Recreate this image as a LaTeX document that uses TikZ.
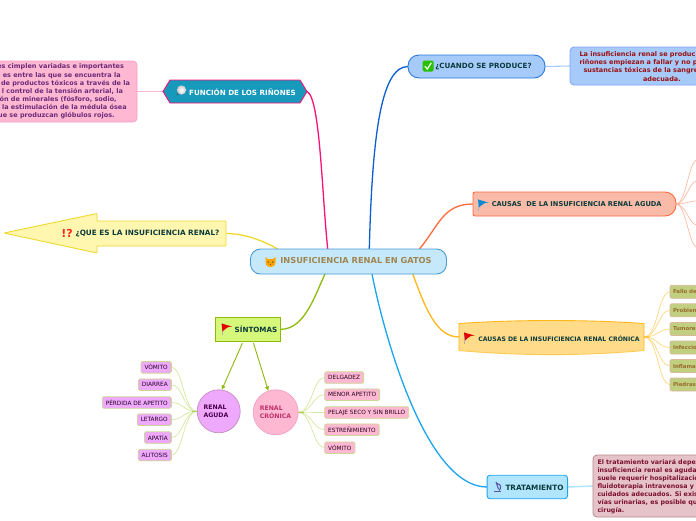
\documentclass[tikz,border=0pt]{standalone}
\usepackage{fontspec}
\setmainfont{DejaVu Sans}
\usetikzlibrary{backgrounds,arrows.meta}
\definecolor{ink}{HTML}{0B3B3C}
\definecolor{pinkf}{HTML}{FFB8D2}
\definecolor{pinkd}{HTML}{F5A0C4}
\definecolor{violetf}{HTML}{EFA9FC}
\definecolor{leafd}{HTML}{CBD795}
\definecolor{fanl}{HTML}{D5E8A0}
\definecolor{bluef}{HTML}{A6CBFA}
\definecolor{blued}{HTML}{2B78E0}
\definecolor{salm}{HTML}{F9BBA7}
\definecolor{orgd}{HTML}{FF6B3D}
\definecolor{goldf}{HTML}{FFDB8A}
\definecolor{goldd}{HTML}{FFB818}
\definecolor{cyanf}{HTML}{B0E5FD}
\definecolor{cyand}{HTML}{1BA5EE}
\definecolor{yelf}{HTML}{FFF7B0}
\definecolor{yeld}{HTML}{EFD92B}
\definecolor{grn}{HTML}{8DBB0B}
\definecolor{grnf}{HTML}{D5F77A}
\definecolor{mag}{HTML}{FF0F78}
\definecolor{tealf}{HTML}{1799BB}
\definecolor{centf}{HTML}{C5E9FB}
\definecolor{centd}{HTML}{4A9BD4}
\definecolor{centt}{HTML}{A08550}
\definecolor{oliveleaf}{HTML}{C0D080}
\definecolor{oliveedge}{HTML}{D9B99B}
\definecolor{olivetext}{HTML}{9A6B2E}
\definecolor{rosef}{HTML}{E6C3C8}
\definecolor{rosed}{HTML}{B58A90}
\definecolor{cronr}{HTML}{C0306B}
\definecolor{trunk}{HTML}{0B5FD0}
\newcommand{\flagicon}[3]{%
  \fill[gray!60] (#1-4,#2-6) rectangle (#1-3,#2+6);
  \fill[#3] (#1-4,#2-5.5) -- (#1+6.5,#2-2.5) .. controls (#1+2,#2-2) .. (#1-3,#2+2.5) -- cycle;}
\newcommand{\rline}[2]{\makebox[130pt][r]{#2\hspace*{#1pt}}}
\tikzset{
  x=1pt,y=-1pt,
  every node/.style={inner sep=0pt,outer sep=0pt,font=\bfseries\fontsize{7.15}{8}\selectfont,text=ink},
  leaf/.style={draw=leafd,line width=.9pt,rounded corners=1.5pt,minimum height=11.5pt,inner xsep=3.5pt,
     font=\fontsize{5.8}{6}\selectfont,text=black!75!violet},
  vleaf/.style={leaf,fill=violetf},
  pleaf/.style={leaf,fill=pinkf},
  gleaf/.style={draw=oliveedge,fill=oliveleaf,line width=.8pt,rounded corners=2pt,minimum height=13pt,minimum width=40pt,anchor=west,inner xsep=3pt,
     font=\fontsize{5.4}{6}\selectfont\bfseries,text=olivetext,text width=34pt,align=left},
  desc/.style={font=\bfseries\fontsize{6.5}{8.1}\selectfont},
  vfan/.style={fanl,line width=.7pt},
  ofan/.style={salm,line width=.7pt},
  gfan/.style={goldf,line width=.8pt},
  branch/.style={line width=1.3pt},
}
\begin{document}
\begin{tikzpicture}
\useasboundingbox (0,0) rectangle (696,520);
\clip (0,0) rectangle (696,520);

% central
\node[draw=centd,fill=centf,line width=.9pt,rounded corners=10pt,minimum width=196pt,minimum height=25pt] (central) at (348.5,261.5) {};
\node[text=centt,font=\bfseries\fontsize{8.25}{9}\selectfont] (centralt) at (356,260.5) {INSUFICIENCIA RENAL EN GATOS};
\fill[orange!70!yellow] (265.5,257) -- (268,259) -- (273,259) -- (275.5,257) -- (275.5,262) .. controls (275.5,269) and (265.5,269) .. (265.5,262) -- cycle;
\fill[brown!60!black] (268.2,262) circle (.8) (272.8,262) circle (.8) (270.5,264.5) circle (.7);

% funcion
\node[minimum width=144pt,minimum height=23pt] (fun) at (235,91.5) {};
\draw[draw=mag,fill=tealf,line width=.9pt] (fun.west) -- ([xshift=7pt]fun.north west) -- ([xshift=-7pt]fun.north east) -- (fun.east) -- ([xshift=-7pt]fun.south east) -- ([xshift=7pt]fun.south west) -- cycle;
\node[text=white] (funt) at (242.5,92) {FUNCIÓN DE LOS RIÑONES};
\fill[gray!60!black] (176.5,95.5) -- (178,93) -- (179,94) -- cycle;
\shade[inner color=white,outer color=gray!40] (181.5,90) circle (4.6);
\node[draw=pinkd,fill=pinkf,line width=.8pt,rounded corners=4pt,minimum width=160pt,minimum height=61pt] (fund) at (57,91.5) {};
\node[desc,anchor=west,align=left,text={rgb,255:red,107;green,42;blue,122}] (fundt) at (0,91.5) {\rline{6}{es cimplen variadas e importantes}\\\rline{9.3}{es entre las que se encuentra la}\\\rline{0}{de productos tóxicos a través de la}\\\rline{7}{l control de la tensión arterial, la}\\\rline{13.3}{ón de minerales (fósforo, sodio,}\\\rline{3.3}{o la estimulación de la médula ósea}\\\rline{15.3}{que se produzcan glóbulos rojos.}};

% cuando
\node[draw=blued,fill=bluef,line width=.9pt,rounded corners=11pt,minimum width=137pt,minimum height=23pt] (cuando) at (476.5,66.5) {};
\node (cuandot) at (483.5,66.5) {¿CUANDO SE PRODUCE?};
\fill[green!70!black!80!lime,rounded corners=1.5pt] (422.5,60.5) rectangle (433.5,71.5);
\draw[white,line width=1.2pt] (424.8,66.3) -- (427.3,69) -- (431.3,62.8);
\node[draw=bluef!80!blue,fill=bluef,line width=.8pt,rounded corners=4pt,minimum width=140pt,minimum height=38pt] (cuandod) at (640,66) {};
\node[desc,anchor=west,align=left,text={rgb,255:red,156;green,16;blue,16}] (cuandodt) at (579.5,66.5) {La insuficiencia renal se produc\\riñones empiezan a fallar y no p\\\hspace*{4pt}sustancias tóxicas de la sangre\\\hspace*{63.5pt}adecuada.};

% aguda causes
\node[minimum width=203pt,minimum height=24pt] (agu) at (574.5,204) {};
\draw[draw=orgd,fill=salm,line width=.9pt,rounded corners=2pt] (agu.west) -- (agu.north west) [rounded corners=11pt] -- (agu.north east) -- (agu.south east) [rounded corners=2pt] -- (agu.south west) -- cycle;
\node[font=\bfseries\fontsize{6.65}{8}\selectfont] (agut) at (576.7,204.3) {CAUSAS\ \ DE LA INSUFICIENCIA RENAL AGUDA};
\flagicon{482}{205}{cyan!70!blue}

% cronica causes
\node[minimum width=185pt,minimum height=27pt] (cro) at (551.5,337) {};
\fill[goldf] (cro.north west) .. controls +(60,-4) and +(-60,-4) .. (cro.north east) -- (cro.south east) .. controls +(-60,5.5) and +(60,5.5) .. (cro.south west) -- cycle;
\draw[goldf!55!goldd,line width=.9pt] (cro.south west) .. controls +(60,5.5) and +(-60,5.5) .. (cro.south east);
\draw[goldd,line width=.9pt] (cro.south west) -- (cro.north west) .. controls +(60,-4) and +(-60,-4) .. (cro.north east) -- (cro.south east);
\node[font=\bfseries\fontsize{6.15}{8}\selectfont] (crot) at (559,338.3) {CAUSAS DE LA INSUFICIENCIA RENAL CRÓNICA};
\flagicon{468}{338}{red!90!black}

% cronica leaves
\node[gleaf] (g1) at (670,291.8) {Fallo de};
\node[gleaf] (g2) at (670,310.3) {Problem};
\node[gleaf] (g3) at (670,329) {Tumores};
\node[gleaf] (g4) at (670,347.5) {Infeccion};
\node[gleaf] (g5) at (670,366) {Inflama};
\node[gleaf] (g6) at (670,384.5) {Piedras};

% tratamiento
\node[draw=cyand,fill=cyanf,line width=.9pt,rounded corners=3pt,minimum width=80.5pt,minimum height=23.5pt] (tra) at (527.3,487) {};
\node[font=\bfseries\fontsize{7.3}{8}\selectfont] (trat) at (534.5,487.5) {TRATAMIENTO};
\draw[gray!70!blue,line width=1.3pt] (494,491.5) -- (501,491.5);
\draw[gray!70!blue,line width=1.1pt] (496,482) -- (498.5,489) (497,483.5) .. controls (502,484) and (501,489) .. (499,490.5);
\node[draw=rosed,fill=rosef,line width=.8pt,rounded corners=4pt,minimum width=120pt,minimum height=62pt] (trad) at (653,486) {};
\node[anchor=west,align=left,font=\bfseries\fontsize{6.3}{8.1}\selectfont,text={rgb,255:red,122;green,16;blue,48}] (tradt) at (597.5,486.5) {El tratamiento variará depe\\insuficiencia renal es aguda\\suele requerir hospitalizació\\fluidoterapia intravenosa y\\cuidados adecuados. Si exis\\vías urinarias, es posible qu\\cirugía.};

% que es
\coordinate (qtip) at (4,233);
\node[minimum width=129pt,minimum height=25pt] (que) at (161.5,233.5) {};
\draw[yeld,fill=yelf,line width=.9pt,rounded corners=.8pt] (qtip) -- (97,213.5) -- (97,221) -- (que.north east) -- (que.south east) -- (97,246) -- (97,253) -- cycle;
\node[font=\bfseries\fontsize{7.3}{8}\selectfont] (quet) at (147.5,233.3) {¿QUE ES LA INSUFICIENCIA RENAL?};
\node[text=red!85!white,font=\bfseries\fontsize{11}{12}\selectfont] (quei) at (67,233) {!?};

% sintomas
\node[draw=grn,fill=grnf,line width=.9pt,minimum width=65pt,minimum height=24pt] (sin) at (248.3,329.3) {};
\node (sint) at (256,329.6) {SÍNTOMAS};
\flagicon{225.5}{329}{red!90!black}

% circles
\node[circle,draw=violet!45!white,fill=violetf,line width=.7pt,minimum size=43pt] (ra) at (218.7,411.3) {};
\node[align=left,text=violet!60!black,font=\bfseries\fontsize{6.2}{8}\selectfont] (rat) at (216,411.5) {RENAL\\AGUDA};
\node[circle,draw=pinkd,fill=pinkf,line width=.7pt,minimum size=45pt] (rc) at (275.7,412.3) {};
\node[align=left,text=cronr,font=\bfseries\fontsize{6.2}{8}\selectfont] (rct) at (275.5,412.5) {RENAL\\CRÓNICA};

% leaves
\node[vleaf,anchor=east] (v1) at (171.3,367.3) {VÓMITO};
\node[vleaf,anchor=east] (v2) at (171.3,384.7) {DIARREA};
\node[vleaf,anchor=east] (v3) at (171.3,402.5) {PÉRDIDA DE APETITO};
\node[vleaf,anchor=east] (v4) at (171.3,419.7) {LETARGO};
\node[vleaf,anchor=east] (v5) at (171.3,437.5) {APATÍA};
\node[vleaf,anchor=east] (v6) at (171.3,455) {ALITOSIS};
\node[pleaf,anchor=west] (p1) at (324.7,377.5) {DELGADEZ};
\node[pleaf,anchor=west] (p2) at (324.7,394.7) {MENOR APETITO};
\node[pleaf,anchor=west] (p3) at (324.7,412.5) {PELAJE SECO Y SIN BRILLO};
\node[pleaf,anchor=west] (p4) at (324.7,429.7) {ESTREÑIMIENTO};
\node[pleaf,anchor=west] (p5) at (324.7,447.7) {VÓMITO};

% free ends of the fan that leaves the picture
\coordinate (o1) at (697,160);
\coordinate (o2) at (697,181);
\coordinate (o3) at (697,201);
\coordinate (o4) at (697,225);
\coordinate (o5) at (697,247);

\begin{scope}[on background layer]
  \fill[white] (0,0) rectangle (696,520);
  \draw[mag,branch] (fun.east) .. controls +(13,6) and +(-6,-59) .. (central.149);
  \draw[trunk,branch] (cuando.west) .. controls +(-26,0) and +(3,-119) .. (central.31);
  \draw[orgd,branch] (agu.west) .. controls +(-30,0) and +(20,-24) .. (central.10.6);
  \draw[goldd,branch] (cro.west) .. controls +(-22,0) and +(13,36) .. (central.-11.1);
  \draw[cyand,branch] (tra.west) .. controls +(-60,0) and +(13,66) .. (central.-28);
  \draw[yeld,branch] (que.east) .. controls +(20,0) and +(-12,-7) .. (central.170.7);
  \draw[grn,branch] (sin.east) .. controls +(24,0) and +(-10,21) .. (central.-152);
  \draw[pinkf,line width=1.1pt] (fun.west) -- (fund.east |- fun.west);
  \draw[bluef,line width=1.1pt] (cuando.east) -- (cuandod.west);
  \draw[cyanf,line width=1.5pt] (tra.east) -- (trad.west);
  \foreach \e in {o1,o2,o3,o4,o5} \draw[ofan] (agu.east) .. controls +(10,0) and +(-8,0) .. (\e);
  \draw[salm,line width=1.2pt] (agu.east) -- +(4,0);
  \foreach \e in {g1,g2,g3,g4,g5,g6} \draw[gfan] (cro.east) .. controls +(14,0) and +(-12,0) .. (\e.west);
  \draw[goldd!80!white,line width=1.4pt] (cro.east) -- +(5,0);
  \foreach \e in {v1,v2,v3,v4,v5,v6} \draw[vfan] (ra.west) .. controls +(-14,0) and +(12,0) .. (\e.east);
  \draw[grn!70!white,line width=1.2pt] (ra.west) -- +(-5,0);
  \foreach \e in {p1,p2,p3,p4,p5} \draw[vfan] (rc.east) .. controls +(14,0) and +(-12,0) .. (\e.west);
  \draw[grn!70!white,line width=1.2pt] (rc.east) -- +(6,0);
\end{scope}
\draw[grn,line width=.9pt,-{Latex[length=4.5pt,width=4.5pt]},shorten <=2pt] (sin.-113) -- (ra.82);
\draw[grn,line width=.9pt,-{Latex[length=4.5pt,width=4.5pt]},shorten <=2pt] (sin.-69) -- (rc.109);
\end{tikzpicture}
\end{document}
